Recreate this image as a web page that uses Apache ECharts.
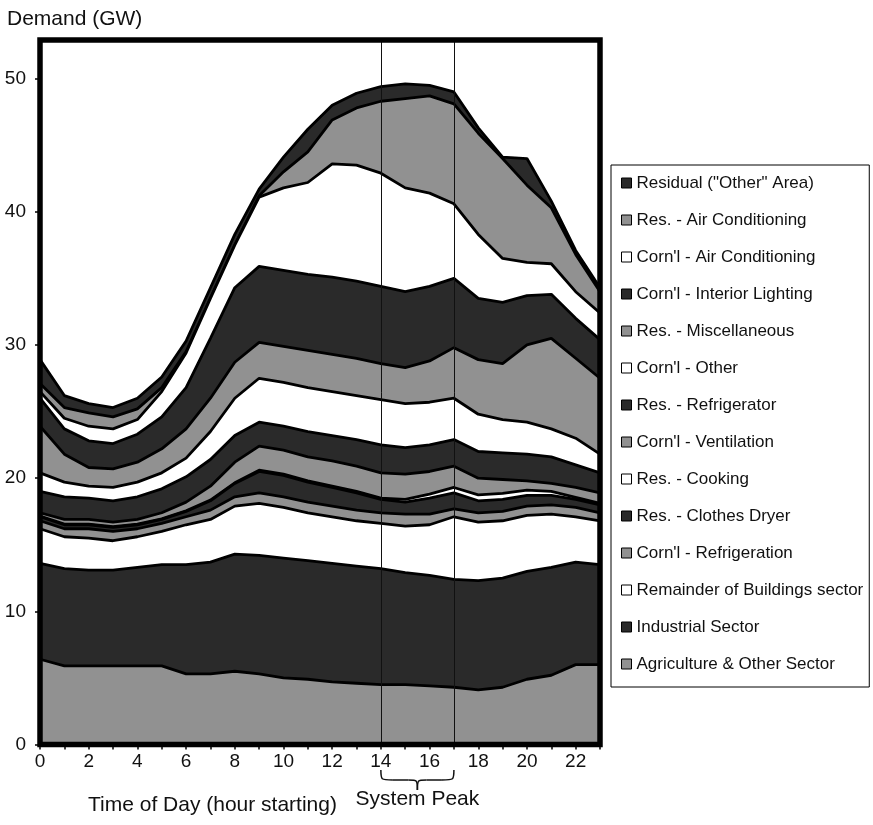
<!DOCTYPE html>
<html>
<head>
<meta charset="utf-8">
<script src="https://cdn.jsdelivr.net/npm/echarts/dist/echarts.min.js"></script>
<style>
  html, body { margin: 0; padding: 0; background: #fff; }
  #chart { width: 873px; height: 825px; }
</style>
</head>
<body>
<div id="chart"></div>
<script>
// hour of day (hour starting)
const hours = ['0', '1', '2', '3', '4', '5', '6', '7', '8', '9', '10', '11',
  '12', '13', '14', '15', '16', '17', '18', '19', '20', '21', '22', '23'];

// demand by end use, GW (bottom layer first)
const agriculture = [6.4, 5.9, 5.9, 5.9, 5.9, 5.9, 5.3, 5.3, 5.5, 5.3, 5.0, 4.9, 4.7, 4.6, 4.5, 4.5, 4.4, 4.3, 4.1, 4.3, 4.9, 5.2, 6.0, 6.0];
const industrial = [7.2, 7.3, 7.2, 7.2, 7.4, 7.6, 8.2, 8.4, 8.8, 8.9, 9.0, 8.9, 8.9, 8.8, 8.7, 8.4, 8.3, 8.1, 8.2, 8.2, 8.1, 8.1, 7.7, 7.5];
const remainder = [2.6, 2.4, 2.4, 2.2, 2.3, 2.5, 3.0, 3.2, 3.6, 3.9, 3.8, 3.6, 3.5, 3.4, 3.4, 3.5, 3.8, 4.7, 4.4, 4.3, 4.2, 4.0, 3.4, 3.3];
const cmlRefrigeration = [0.6, 0.6, 0.7, 0.7, 0.6, 0.6, 0.6, 0.7, 0.7, 0.8, 0.8, 0.8, 0.8, 0.8, 0.8, 0.9, 0.8, 0.6, 0.7, 0.7, 0.7, 0.7, 0.7, 0.6];
const resDryer = [0.3, 0.3, 0.3, 0.3, 0.3, 0.3, 0.4, 0.7, 1.0, 1.6, 1.6, 1.5, 1.4, 1.3, 1.0, 0.9, 1.2, 1.2, 0.9, 0.9, 0.8, 0.7, 0.6, 0.6];
const resCooking = [0.05, 0.05, 0.05, 0.05, 0.05, 0.05, 0.05, 0.05, 0.05, 0.1, 0.1, 0.1, 0.1, 0.1, 0.1, 0.2, 0.3, 0.4, 0.45, 0.45, 0.4, 0.3, 0.15, 0.1];
const cmlVentilation = [0.25, 0.35, 0.35, 0.35, 0.35, 0.45, 0.65, 1.05, 1.55, 1.8, 1.8, 1.8, 1.9, 1.9, 1.9, 1.9, 1.7, 1.6, 1.25, 1.05, 0.7, 0.6, 0.75, 0.8];
const resRefrigerator = [1.6, 1.7, 1.6, 1.6, 1.7, 1.8, 1.9, 2.0, 2.0, 1.8, 1.8, 1.9, 1.9, 2.0, 2.1, 2.0, 2.0, 2.0, 2.0, 2.0, 2.0, 2.0, 1.7, 1.5];
const cmlOther = [1.4, 1.1, 0.9, 1.0, 1.1, 1.2, 1.4, 2.1, 2.8, 3.3, 3.3, 3.3, 3.3, 3.3, 3.4, 3.3, 3.2, 3.1, 2.8, 2.5, 2.4, 2.1, 2.0, 1.4];
const resMisc = [3.5, 2.1, 1.4, 1.4, 1.5, 1.8, 2.2, 2.5, 2.7, 2.7, 2.7, 2.8, 2.8, 2.8, 2.7, 2.7, 3.1, 3.8, 4.1, 4.2, 5.8, 6.8, 6.0, 5.7];
const cmlLighting = [2.1, 1.9, 2.0, 1.9, 2.1, 2.4, 3.1, 4.5, 5.6, 5.7, 5.7, 5.7, 5.8, 5.8, 5.8, 5.7, 5.6, 5.2, 4.6, 4.6, 3.7, 3.3, 3.0, 2.9];
const cmlAirCon = [0.5, 0.8, 1.1, 1.1, 1.1, 1.9, 2.6, 3.0, 3.2, 5.2, 6.2, 6.9, 8.5, 8.7, 8.5, 7.8, 7.0, 5.6, 4.8, 3.3, 2.5, 2.3, 2.0, 2.0];
const resAirCon = [0.6, 0.8, 1.0, 0.9, 0.8, 0.3, 0.1, 0, 0, 0.1, 1.2, 2.3, 3.3, 4.3, 5.4, 6.7, 7.3, 7.5, 7.6, 7.5, 5.8, 4.2, 2.8, 1.6];
const residual = [1.8, 0.9, 0.7, 0.7, 0.8, 0.8, 0.8, 0.8, 0.8, 0.5, 1.1, 1.7, 1.1, 1.1, 1.1, 1.1, 0.8, 0.9, 0.4, 0.1, 2.0, 0.5, 0.3, 0.3];

const peakHours = ['14', '17'];

const FONT = '"Liberation Sans", Arial, Helvetica, sans-serif';
const GRAY = '#919191';
const DARK = '#2a2a2a';
const WHITE = '#ffffff';

const layers = [
  ['Agriculture & Other Sector', agriculture, GRAY],
  ['Industrial Sector', industrial, DARK],
  ['Remainder of Buildings sector', remainder, WHITE],
  ["Corn'l - Refrigeration", cmlRefrigeration, GRAY],
  ['Res. - Clothes Dryer', resDryer, DARK],
  ['Res. - Cooking', resCooking, WHITE],
  ["Corn'l - Ventilation", cmlVentilation, GRAY],
  ['Res. - Refrigerator', resRefrigerator, DARK],
  ["Corn'l - Other", cmlOther, WHITE],
  ['Res. - Miscellaneous', resMisc, GRAY],
  ["Corn'l - Interior Lighting", cmlLighting, DARK],
  ["Corn'l - Air Conditioning", cmlAirCon, WHITE],
  ['Res. - Air Conditioning', resAirCon, GRAY],
  ['Residual ("Other" Area)', residual, DARK]
];

const chart = echarts.init(document.getElementById('chart'));

// lower layers get a higher z so every boundary line stays on top
const series = layers.map((l, i) => ({
  name: l[0],
  type: 'line',
  stack: 'demand',
  data: l[1],
  symbol: 'none',
  showSymbol: false,
  z: 30 - i,
  lineStyle: { color: '#000', width: 2.8 },
  itemStyle: { color: l[2] },
  areaStyle: { color: l[2], opacity: 1 },
  emphasis: { disabled: true }
}));

series[0].markLine = {
  silent: true,
  symbol: 'none',
  z: 100,
  label: { show: false },
  lineStyle: { color: '#111', width: 1, type: 'solid' },
  data: peakHours.map(h => ({ xAxis: h }))
};

chart.setOption({
  animation: false,
  backgroundColor: '#fff',
  title: {
    text: 'Demand (GW)',
    left: 2, top: 4,
    textStyle: { fontFamily: FONT, fontSize: 21, fontWeight: 'normal', color: '#111' }
  },
  grid: { left: 40, top: 40, right: 273, bottom: 80.5, outerBoundsMode: 'none' },
  legend: {
    orient: 'vertical',
    left: 611, top: 165,
    selectedMode: false,
    data: layers.slice().reverse().map(l => ({
      name: l[0],
      icon: 'rect',
      itemStyle: { color: l[2], borderColor: '#000', borderWidth: 1 }
    })),
    itemWidth: 10, itemHeight: 10, itemGap: 17,
    padding: [8, 6, 13, 10],
    backgroundColor: '#fff', borderColor: '#000', borderWidth: 1,
    textStyle: { fontFamily: FONT, fontSize: 17, color: '#111', lineHeight: 20 }
  },
  xAxis: {
    type: 'category',
    data: hours,
    boundaryGap: false,
    axisLine: { show: false },
    axisTick: { show: true, interval: 0, length: 5, lineStyle: { color: '#000', width: 1.5 } },
    axisLabel: { interval: 1, margin: 8, fontFamily: FONT, fontSize: 19, color: '#111' },
    splitLine: { show: false }
  },
  yAxis: {
    type: 'value',
    min: 0, max: 52.9, interval: 10,
    axisLine: { show: false },
    axisTick: { show: true, length: 5, lineStyle: { color: '#000', width: 1.5 } },
    axisLabel: {
      margin: 14, fontFamily: FONT, fontSize: 19, color: '#111', showMaxLabel: false,
      formatter: v => (v % 10 === 0 ? String(v) : '')
    },
    splitLine: { show: false }
  },
  series: series
});

// frame, brace and bottom captions, placed from the axis scale
const x14 = chart.convertToPixel({ xAxisIndex: 0 }, peakHours[0]);
const x17 = chart.convertToPixel({ xAxisIndex: 0 }, peakHours[1]);
const cx = (x14 + x17) / 2;
const yTop = 770, yMid = 780, yTip = 790;
const brace = { stroke: '#111', lineWidth: 1.5, fill: null };

chart.setOption({
  graphic: [
    {
      type: 'rect', z: 200, silent: true,
      shape: { x: 40, y: 40, width: 560, height: 704.5 },
      style: { fill: null, stroke: '#000', lineWidth: 5.5 }
    },
    {
      type: 'bezierCurve', z: 200, silent: true,
      shape: { x1: x14, y1: yTop, cpx1: x14, cpy1: yMid, cpx2: x14, cpy2: yMid, x2: x14 + 12, y2: yMid },
      style: brace
    },
    {
      type: 'line', z: 200, silent: true,
      shape: { x1: x14 + 12, y1: yMid, x2: cx - 9, y2: yMid },
      style: brace
    },
    {
      type: 'bezierCurve', z: 200, silent: true,
      shape: { x1: cx - 9, y1: yMid, cpx1: cx, cpy1: yMid, cpx2: cx, cpy2: yMid, x2: cx, y2: yTip },
      style: brace
    },
    {
      type: 'bezierCurve', z: 200, silent: true,
      shape: { x1: cx, y1: yTip, cpx1: cx, cpy1: yMid, cpx2: cx, cpy2: yMid, x2: cx + 9, y2: yMid },
      style: brace
    },
    {
      type: 'line', z: 200, silent: true,
      shape: { x1: cx + 9, y1: yMid, x2: x17 - 12, y2: yMid },
      style: brace
    },
    {
      type: 'bezierCurve', z: 200, silent: true,
      shape: { x1: x17 - 12, y1: yMid, cpx1: x17, cpy1: yMid, cpx2: x17, cpy2: yMid, x2: x17, y2: yTop },
      style: brace
    },
    {
      type: 'text', z: 200, silent: true,
      style: {
        text: 'Time of Day (hour starting)', x: 88, y: 805,
        font: '21px ' + FONT, fill: '#111', align: 'left', verticalAlign: 'middle'
      }
    },
    {
      type: 'text', z: 200, silent: true,
      style: {
        text: 'System Peak', x: cx, y: 799,
        font: '21px ' + FONT, fill: '#111', align: 'center', verticalAlign: 'middle'
      }
    }
  ]
});
</script>
</body>
</html>
